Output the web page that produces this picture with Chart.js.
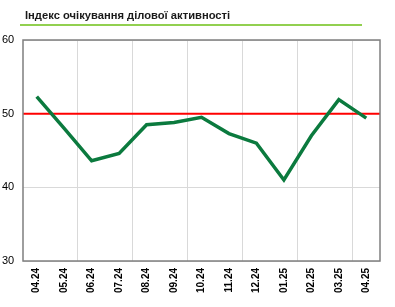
<!DOCTYPE html>
<html lang="uk">
<head>
<meta charset="UTF-8">
<title>Індекс очікування ділової активності</title>
<script src="https://cdn.jsdelivr.net/npm/chart.js"></script>
<style>
  html, body { margin: 0; padding: 0; background: #fff; }
  #wrap { position: relative; width: 395px; height: 307px; }
  #title {
    position: absolute; left: 25px; top: 9px;
    font: bold 11.2px "Liberation Sans", Arial, sans-serif; color: #1a1a1a;
  }
  #rule { position: absolute; left: 20px; top: 24px; width: 342px; height: 2px; background: #92d050; }
  canvas { position: absolute; left: 0; top: 0; }
</style>
</head>
<body>
<div id="wrap">
  <canvas id="chart" width="395" height="307"></canvas>
  <div id="title">Індекс очікування ділової активності</div>
  <div id="rule"></div>
</div>
<script>
const months = ['04.24', '05.24', '06.24', '07.24', '08.24', '09.24', '10.24',
                '11.24', '12.24', '01.25', '02.25', '03.25', '04.25'];
const indexValues = [52.3, 48.0, 43.6, 44.6, 48.5, 48.8, 49.5, 47.3, 46.0, 41.0, 47.0, 51.9, 49.4];
const threshold = 50;
const yTicks = [30, 40, 50, 60];

// red neutral line + plot frame
const extras = {
  id: 'extras',
  beforeDatasetsDraw(chart) {
    const { ctx, chartArea: a, scales } = chart;
    const y = scales.y.getPixelForValue(threshold);
    ctx.save();
    ctx.strokeStyle = '#ff0000';
    ctx.lineWidth = 2;
    ctx.beginPath();
    ctx.moveTo(a.left, y);
    ctx.lineTo(a.right, y);
    ctx.stroke();
    ctx.restore();
  },
  afterDraw(chart) {
    const { ctx, chartArea: a } = chart;
    ctx.save();
    ctx.strokeStyle = '#7f7f7f';
    ctx.lineWidth = 1.5;
    ctx.strokeRect(a.left, a.top, a.right - a.left, a.bottom - a.top);
    ctx.restore();
  }
};

new Chart(document.getElementById('chart'), {
  type: 'line',
  data: {
    labels: months,
    datasets: [{
      data: indexValues,
      borderColor: '#0b7a3e',
      borderWidth: 3.5,
      pointRadius: 0,
      tension: 0,
      fill: false
    }]
  },
  options: {
    responsive: false,
    animation: false,
    layout: { padding: { top: 40, right: 15, bottom: 0, left: 2 } },
    plugins: { legend: { display: false }, tooltip: { enabled: false } },
    scales: {
      x: {
        offset: true,
        border: { display: false },
        grid: {
          offset: true,
          drawTicks: false,
          color: ctx => (ctx.index % 2 === 0 && ctx.index > 0 && ctx.index < months.length) ? '#d9d9d9' : 'rgba(0,0,0,0)'
        },
        ticks: {
          minRotation: 90, maxRotation: 90, autoSkip: false, padding: 7,
          color: '#000',
          font: { family: '"Liberation Sans", Arial, sans-serif', size: 10, weight: 'bold' }
        },
        afterFit: s => { s.height = 46; }
      },
      y: {
        min: 30, max: 60,
        border: { display: false },
        grid: { drawTicks: false, color: '#d9d9d9' },
        afterBuildTicks: s => { s.ticks = yTicks.map(v => ({ value: v })); },
        ticks: {
          padding: 4, crossAlign: 'far',
          color: '#000',
          font: { family: '"Liberation Sans", Arial, sans-serif', size: 11 }
        },
        afterFit: s => { s.width = 21; }
      }
    }
  },
  plugins: [extras]
});
</script>
</body>
</html>
